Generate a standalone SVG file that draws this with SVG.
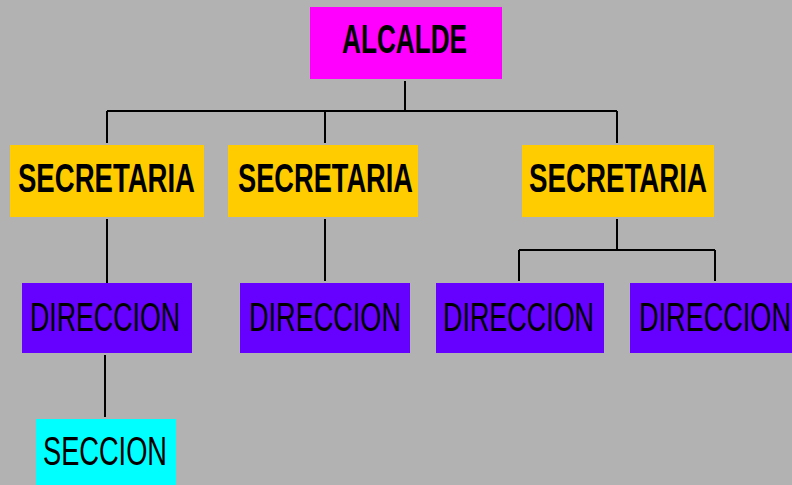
<svg xmlns="http://www.w3.org/2000/svg" width="792" height="485" viewBox="0 0 792 485">
<style>
.t{font-family:"Liberation Sans",Arial,sans-serif;font-size:40px;fill:#000;text-anchor:start}
.b{font-weight:bold}
.c{stroke:#000;stroke-width:2;fill:none}
</style>
<rect width="792" height="485" fill="#B2B2B2"/>
<g id="connectors">
<path class="c" d="M405 81V111M107 111H617M107 111V143M325 111V143M617 111V143"/>
<path class="c" d="M107 219V283M325 219V281M617 219V250M519 250H715M519 250V281M715 250V281"/>
<path class="c" d="M105 355V417"/>
</g>
<g id="alcalde"><rect x="310" y="7" width="192" height="72" fill="#FF00FF"/><text class="t b" x="342" y="53" textLength="125" lengthAdjust="spacingAndGlyphs">ALCALDE</text></g>
<g id="sec1"><rect x="10" y="145" width="194" height="72" fill="#FFCC00"/><text class="t b" x="18" y="192" textLength="177" lengthAdjust="spacingAndGlyphs">SECRETARIA</text></g>
<g id="sec2"><rect x="228" y="145" width="190" height="72" fill="#FFCC00"/><text class="t b" x="238" y="192" textLength="175" lengthAdjust="spacingAndGlyphs">SECRETARIA</text></g>
<g id="sec3"><rect x="522" y="145" width="192" height="72" fill="#FFCC00"/><text class="t b" x="529" y="192" textLength="178" lengthAdjust="spacingAndGlyphs">SECRETARIA</text></g>
<g id="dir1"><rect x="22" y="283" width="170" height="70" fill="#6600FF"/><text class="t" x="30" y="331" textLength="150" lengthAdjust="spacingAndGlyphs">DIRECCION</text></g>
<g id="dir2"><rect x="240" y="283" width="170" height="70" fill="#6600FF"/><text class="t" x="249" y="331" textLength="152" lengthAdjust="spacingAndGlyphs">DIRECCION</text></g>
<g id="dir3"><rect x="436" y="283" width="168" height="70" fill="#6600FF"/><text class="t" x="443" y="331" textLength="151" lengthAdjust="spacingAndGlyphs">DIRECCION</text></g>
<g id="dir4"><rect x="630" y="283" width="170" height="70" fill="#6600FF"/><text class="t" x="639" y="331" textLength="152" lengthAdjust="spacingAndGlyphs">DIRECCION</text></g>
<g id="seccion"><rect x="36" y="419" width="140" height="70" fill="#00FFFF"/><text class="t" x="43" y="465" textLength="124" lengthAdjust="spacingAndGlyphs">SECCION</text></g>
</svg>
